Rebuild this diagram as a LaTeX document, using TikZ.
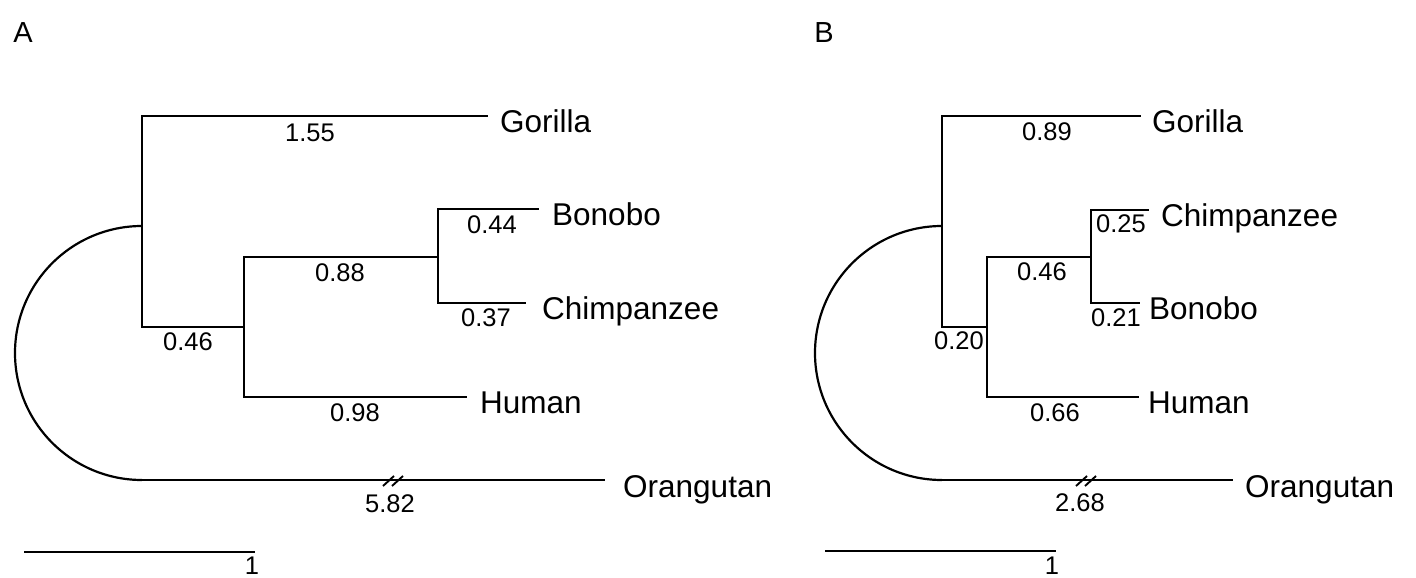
\documentclass[tikz,border=0pt]{standalone}
\usepackage{fontspec}
\setmainfont{Liberation Sans}
\begin{document}
\begin{tikzpicture}[x=1pt,y=-1pt,
  branch/.style={line width=2.2pt, line cap=rect},
  scalebar/.style={line width=2.8pt},
  brk/.style={line width=1.9pt},
  lbl/.style={font=\fontsize{25.5}{25.5}\selectfont, inner sep=0pt},
  taxon/.style={font=\fontsize{31.5}{31.5}\selectfont, inner sep=0pt, anchor=base west},
  panel/.style={font=\fontsize{29}{29}\selectfont, inner sep=0pt}]
\useasboundingbox (0,0) rectangle (1416,578);

% ---------------- Panel A ----------------
\node[panel] (pA) at (23,33) {A};

\coordinate (aR)  at (142,226);
\coordinate (aRt) at (142,116);
\coordinate (aRb) at (142,327);
\coordinate (aO)  at (142,480);
\coordinate (a1)  at (244,327);
\coordinate (a1t) at (244,257);
\coordinate (a1b) at (244,397);
\coordinate (a2)  at (438,257);
\coordinate (a2t) at (438,209);
\coordinate (a2b) at (438,303);
\coordinate (aGo) at (487,116);
\coordinate (aBo) at (538,209);
\coordinate (aCh) at (525,303);
\coordinate (aHu) at (466,397);
\coordinate (aOr) at (604,480);

\draw[branch] (aRt) -- (aRb);
\draw[branch] (aRt) -- (aGo);
\draw[branch] (aRb) -- (a1);
\draw[branch] (a1t) -- (a1b);
\draw[branch] (a1t) -- (a2);
\draw[branch] (a2t) -- (a2b);
\draw[branch] (a2t) -- (aBo);
\draw[branch] (a2b) -- (aCh);
\draw[branch] (a1b) -- (aHu);
\draw[branch] (aO) -- (aOr);
\draw[line width=2.2pt] (aR) arc[start angle=90, end angle=270, radius=127pt];

\coordinate (aBrk) at (393,481);
\draw[brk] ([shift={(-10,5)}]aBrk) -- ++(11,-10);
\draw[brk] ([shift={(-1,5)}]aBrk) -- ++(11,-10);

\node[taxon] (tAGo) at (500,132) {Gorilla};
\node[taxon] (tABo) at (552,225) {Bonobo};
\node[taxon] (tACh) at (542,319) {Chimpanzee};
\node[taxon] (tAHu) at (480,413) {Human};
\node[taxon] (tAOr) at (623,497) {Orangutan};

\node[lbl] (lA1) at (310,133) {1.55};
\node[lbl] (lA2) at (188,342) {0.46};
\node[lbl] (lA3) at (340,273) {0.88};
\node[lbl] (lA4) at (492,225) {0.44};
\node[lbl] (lA5) at (486,318) {0.37};
\node[lbl] (lA6) at (355,413) {0.98};
\node[lbl] (lA7) at (390,504) {5.82};

\coordinate (sAl) at (24,552);
\coordinate (sAr) at (255,552);
\draw[scalebar] (sAl) -- (sAr);
\node[lbl] (sA1) at (252,566) {1};

% ---------------- Panel B ----------------
\node[panel] (pB) at (824,33) {B};

\coordinate (bR)  at (942,226);
\coordinate (bRt) at (942,116);
\coordinate (bRb) at (942,327);
\coordinate (bO)  at (942,480);
\coordinate (b1)  at (987,327);
\coordinate (b1t) at (987,257);
\coordinate (b1b) at (987,397);
\coordinate (b2)  at (1091,257);
\coordinate (b2t) at (1091,210);
\coordinate (b2b) at (1091,303);
\coordinate (bGo) at (1140,116);
\coordinate (bCh) at (1148,210);
\coordinate (bBo) at (1139,303);
\coordinate (bHu) at (1138,397);
\coordinate (bOr) at (1232,480);

\draw[branch] (bRt) -- (bRb);
\draw[branch] (bRt) -- (bGo);
\draw[branch] (bRb) -- (b1);
\draw[branch] (b1t) -- (b1b);
\draw[branch] (b1t) -- (b2);
\draw[branch] (b2t) -- (b2b);
\draw[branch] (b2t) -- (bCh);
\draw[branch] (b2b) -- (bBo);
\draw[branch] (b1b) -- (bHu);
\draw[branch] (bO) -- (bOr);
\draw[line width=2.2pt] (bR) arc[start angle=90, end angle=270, radius=127pt];

\coordinate (bBrk) at (1086,481);
\draw[brk] ([shift={(-10,5)}]bBrk) -- ++(11,-10);
\draw[brk] ([shift={(-1,5)}]bBrk) -- ++(11,-10);

\node[taxon] (tBGo) at (1152,132) {Gorilla};
\node[taxon] (tBCh) at (1161,226) {Chimpanzee};
\node[taxon] (tBBo) at (1149,319) {Bonobo};
\node[taxon] (tBHu) at (1148,413) {Human};
\node[taxon] (tBOr) at (1245,497) {Orangutan};

\node[lbl] (lB1) at (1047,132) {0.89};
\node[lbl] (lB2) at (959,341) {0.20};
\node[lbl] (lB3) at (1042,272) {0.46};
\node[lbl] (lB4) at (1121,224) {0.25};
\node[lbl] (lB5) at (1116,318) {0.21};
\node[lbl] (lB6) at (1055,413) {0.66};
\node[lbl] (lB7) at (1080,503) {2.68};

\coordinate (sBl) at (825,551);
\coordinate (sBr) at (1056,551);
\draw[scalebar] (sBl) -- (sBr);
\node[lbl] (sB1) at (1052,566) {1};
\end{tikzpicture}
\end{document}
